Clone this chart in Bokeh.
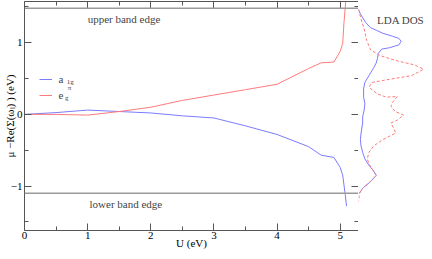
from bokeh.plotting import figure
from bokeh.models import (Range1d, LinearAxis, FixedTicker, Span, Label, Legend, LegendItem)
from bokeh.layouts import row
from bokeh.core.properties import value
from bokeh.embed import file_html
from bokeh.resources import INLINE

# ---- data ----
u_a1g = [0.0, 0.5, 1.0, 1.5, 2.0, 2.5, 3.0, 3.5, 4.0, 4.5, 4.7, 4.9, 5.0, 5.04, 5.08, 5.1]
v_a1g = [0.0, 0.025, 0.06, 0.04, 0.02, -0.02, -0.05, -0.16, -0.28, -0.45, -0.57, -0.6, -0.74, -0.85, -1.12, -1.28]
u_eg = [0.0, 0.5, 1.0, 1.5, 2.0, 2.5, 3.0, 3.5, 4.0, 4.5, 4.7, 4.9, 5.0, 5.04, 5.06, 5.1]
v_eg = [0.0, 0.0, -0.01, 0.04, 0.10, 0.195, 0.27, 0.345, 0.42, 0.64, 0.72, 0.73, 0.88, 0.99, 1.28, 1.7]

upper_edge = 1.48
lower_edge = -1.10

dos_a1g_e = [1.465, 1.40, 1.28, 1.21, 1.17, 1.13, 1.09, 1.06, 1.02, 0.97, 0.93, 0.91, 0.85, 0.78, 0.717,
             0.65, 0.54, 0.445, 0.355, 0.24, 0.15, 0.06, -0.03, -0.12, -0.26, -0.35, -0.44, -0.53, -0.62,
             -0.71, -0.78, -0.85, -0.915, -0.975, -1.03, -1.10]
dos_a1g = [0, 2, 7.7, 12.7, 19.4, 26, 36, 42.7, 45, 42.7, 32.7, 24.4, 21, 20, 18.7,
           16, 11, 6.7, 5.4, 5.4, 6.7, 6, 4.4, 4.4, 2.7, 2, 2.7, 4.4, 6.7,
           11, 15.4, 18.7, 14.4, 9.4, 4.4, 1]
dos_eg_e = [1.465, 1.33, 1.19, 1.03, 0.90, 0.82, 0.74, 0.69, 0.63, 0.54, 0.49, 0.445, 0.38, 0.29, 0.24,
            0.25, 0.17, 0.105, 0.037, -0.01, -0.08, -0.12, -0.21, -0.26, -0.35, -0.44, -0.53, -0.62,
            -0.69, -0.78, -0.85, -0.915, -0.975, -1.03, -1.10, -1.22]
dos_eg = [0, 2.7, 6, 8.7, 12.7, 22.7, 42.7, 59.3, 68.7, 56, 32.7, 14.3, 11, 19.3, 29.3,
          41, 36, 34.3, 39.3, 47.7, 41, 34.3, 37.7, 39.3, 26, 16, 11, 9.3,
          11, 15.4, 18.7, 14.4, 9.4, 4.4, 1, 0]

x_ticks = [0, 1, 2, 3, 4, 5]
x_minor = [0.5, 1.5, 2.5, 3.5, 4.5]
y_ticks = [-1, 0, 1]
y_tick_labels = ["\u22121", "0", "1"]
y_minor = [-1.5, -0.5, 0.5, 1.5]

BLUE = "#7b7bff"
RED = "#ff7b7b"
AX = "#555555"
FONT = "Liberation Serif"

TOP = 1
BOTTOM = 21
H = 251

yr = Range1d(-1.62, 1.575)


def style_axis(ax, ticks, minor, labels=True, visible=True):
    ax.ticker = FixedTicker(ticks=ticks, minor_ticks=minor)
    col = AX if visible else None
    ax.axis_line_color = col
    ax.major_tick_line_color = col
    ax.minor_tick_line_color = col
    ax.major_tick_in = 7
    ax.major_tick_out = 0
    ax.minor_tick_in = 4
    ax.minor_tick_out = 0
    if labels:
        ax.major_label_text_font = FONT
        ax.major_label_text_font_size = "11px"
        ax.major_label_text_color = "black" if visible else None
        ax.axis_label_text_font = FONT
        ax.axis_label_text_font_size = "11px"
        ax.axis_label_text_font_style = "normal"
        ax.axis_label_text_color = "black" if visible else None
    else:
        ax.major_label_text_font_size = "1px"
        ax.major_label_text_color = None
        ax.major_label_standoff = 0


p = figure(width=358, height=H, x_range=Range1d(0, 5.29), y_range=yr,
           output_backend="svg", toolbar_location=None,
           min_border_left=10, min_border_right=0, min_border_top=TOP, min_border_bottom=BOTTOM)
p.outline_line_color = None
p.xgrid.visible = False
p.ygrid.visible = False

xa = p.xaxis[0]
style_axis(xa, x_ticks, x_minor)
xa.axis_label = "U (eV)"
xa.major_label_standoff = 1
xa.axis_label_standoff = -5
ya = p.yaxis[0]
style_axis(ya, y_ticks, y_minor)
ya.major_label_overrides = {t: l for t, l in zip(y_ticks, y_tick_labels)}
ya.axis_label = "\u03bc \u2212Re(\u03a3(\u03c9\u2097) ) (eV)"
ya.major_label_standoff = 2
ya.axis_label_standoff = -8

top_ax = LinearAxis()
style_axis(top_ax, x_ticks, x_minor, labels=False)
p.add_layout(top_ax, "above")
right_ax = LinearAxis()
style_axis(right_ax, y_ticks, y_minor, labels=False)
p.add_layout(right_ax, "right")

p.add_layout(Span(location=upper_edge, dimension="width", line_color="#9a9a9a", line_width=1.5))
p.add_layout(Span(location=lower_edge, dimension="width", line_color="#9a9a9a", line_width=1.5))

rb = p.line(u_a1g, v_a1g, line_color=BLUE, line_width=1)
rr = p.line(u_eg, v_eg, line_color=RED, line_width=1)

p.add_layout(Label(x=1.0, y=upper_edge - 0.06, text="upper band edge", text_font=FONT,
                   text_font_size="11px", text_baseline="top"))
p.add_layout(Label(x=1.03, y=lower_edge - 0.06, text="lower band edge", text_font=FONT,
                   text_font_size="11px", text_baseline="top"))

legend = Legend(items=[LegendItem(label=value("a"), renderers=[rb]),
                       LegendItem(label=value("e"), renderers=[rr])],
                location=(14.5, 128), border_line_color=None, background_fill_alpha=0,
                padding=0, spacing=2, glyph_width=13, glyph_height=14, label_height=14,
                label_standoff=7, label_text_font=FONT, label_text_font_size="11px",
                label_text_baseline="alphabetic", margin=0)
p.add_layout(legend)

p.add_layout(Label(x=0.668, y=0.455, text="1g", text_font=FONT, text_font_size="7px", text_baseline="middle"))
p.add_layout(Label(x=0.684, y=0.37, text="\u03c0", text_font=FONT, text_font_size="7px", text_baseline="middle"))
p.add_layout(Label(x=0.64, y=0.226, text="g", text_font=FONT, text_font_size="7px", text_baseline="middle"))

# ---- DOS panel (same vertical layout, invisible axes to keep frames aligned) ----
q = figure(width=66, height=H, x_range=Range1d(0, 69.7), y_range=yr,
           output_backend="svg", toolbar_location=None, y_axis_location=None,
           min_border_left=0, min_border_right=0, min_border_top=TOP, min_border_bottom=BOTTOM)
q.outline_line_color = None
q.xgrid.visible = False
q.ygrid.visible = False
qb = q.xaxis[0]
style_axis(qb, [], [], labels=True, visible=False)
qb.axis_label = "U (eV)"
qb.major_label_standoff = 1
qb.axis_label_standoff = -5
qt = LinearAxis()
style_axis(qt, [], [], labels=False, visible=False)
q.add_layout(qt, "above")

q.line(dos_a1g, dos_a1g_e, line_color=BLUE, line_width=1)
q.line(dos_eg, dos_eg_e, line_color=RED, line_width=1, line_dash="3 2")
q.add_layout(Label(x=19.5, y=1.32, text="LDA DOS", text_font=FONT, text_font_size="11px",
                   text_baseline="middle"))

layout = row(p, q)
open("out.html", "w").write(file_html(layout, INLINE))
